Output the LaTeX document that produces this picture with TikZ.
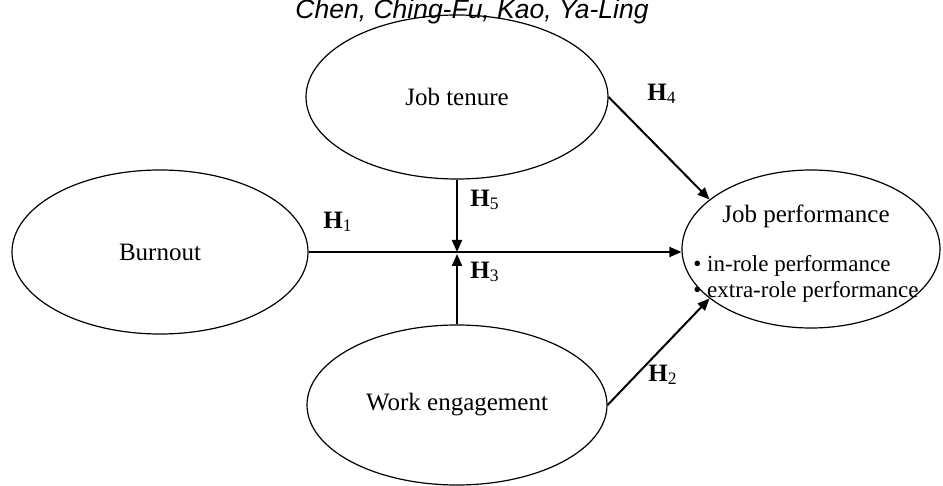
\documentclass[tikz,border=0pt]{standalone}
\usepackage{fontspec}
\setmainfont{Liberation Serif}
\newfontfamily\titlefont{Liberation Sans}
\usetikzlibrary{arrows.meta,shapes.geometric}

\tikzset{
  construct/.style={ellipse,draw,line width=0.6pt,inner sep=0pt,
    font=\fontsize{12.5}{13}\selectfont},
  hyp/.style={font=\fontsize{12.5}{13}\selectfont},
  path/.style={->,line width=1pt}
}
\newcommand{\hlab}[1]{\textbf{H}\textsubscript{#1}}

\begin{document}
\begin{tikzpicture}[x=0.5pt,y=-0.5pt,>={Triangle[length=6pt,width=5pt]}]
\useasboundingbox (0,0) rectangle (943,486);
\node[font=\titlefont\itshape\fontsize{13.25}{15}\selectfont,anchor=base] (title) at (472,19) {Chen, Ching-Fu, Kao, Ya-Ling};

\node[construct,minimum width=151pt,minimum height=82pt] (JT) at (457,97) {Job tenure};
\node[construct,minimum width=148pt,minimum height=82pt] (B) at (160,252) {Burnout};
\node[construct,minimum width=150pt,minimum height=80pt] (WE) at (457,405) {Work engagement};
\node[construct,minimum width=129pt,minimum height=79pt] (JP) at (811,249) {};
\node[font=\fontsize{12.5}{13}\selectfont,inner sep=0pt,anchor=base] (JPtext) at (806,223)
  {\begin{tabular}[t]{@{}l@{}}\multicolumn{1}{c}{Job performance}\\[11.5pt]
   \fontsize{11.5}{13}\selectfont\textbullet\ in-role performance\\
   \fontsize{11.5}{13}\selectfont\textbullet\ extra-role performance\end{tabular}};

\coordinate (mid) at (JT.south |- B.east);

\draw[path] (B.east) -- (B.east -| JP.west);
\draw[path] (JT.south) -- (mid);
\draw[path] (WE.north) -- ([yshift=-1pt]mid);
\draw[path] (JT.east) -- (JP.154);
\draw[path] (WE.east) -- (JP.206);

\node[hyp] (H1) at (338,222) {\hlab{1}};
\node[hyp] (H5) at (485,200) {\hlab{5}};
\node[hyp] (H3) at (485,272) {\hlab{3}};
\node[hyp] (H4) at (662,94) {\hlab{4}};
\node[hyp] (H2) at (663,375) {\hlab{2}};
\end{tikzpicture}
\end{document}
